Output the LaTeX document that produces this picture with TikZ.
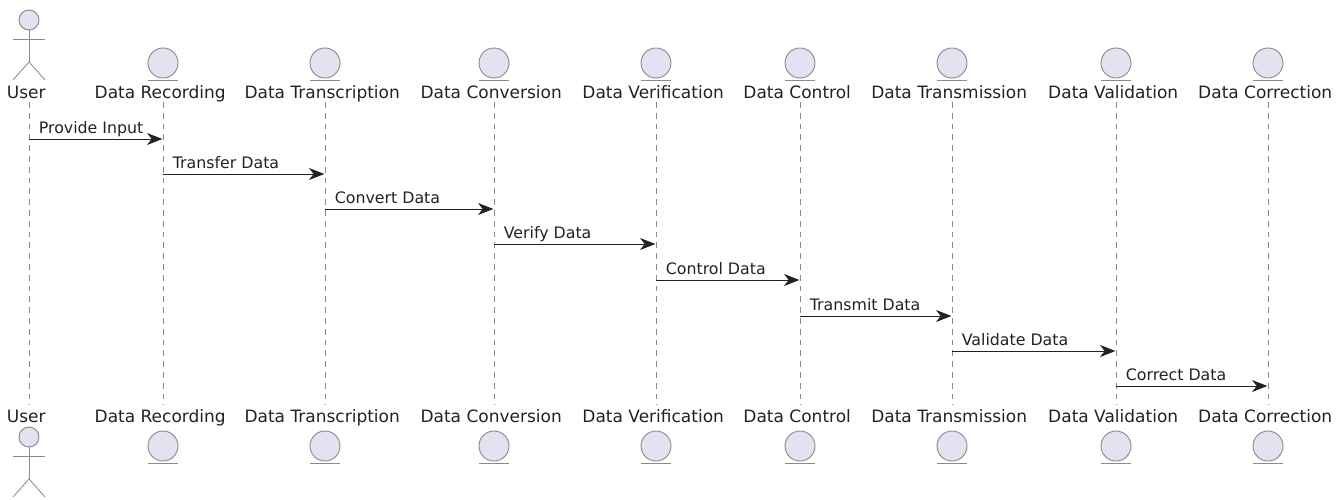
\documentclass[tikz,border=0pt]{standalone}
\usepackage{fontspec}
\setmainfont{DejaVu Sans}
\usetikzlibrary{arrows.meta}
\definecolor{pfill}{HTML}{E2E2F0}
\definecolor{pline}{HTML}{8A8A8A}
\definecolor{ink}{HTML}{222222}
\tikzset{
  x=0.75pt,y=-0.75pt,
  name text/.style={font=\fontsize{12.75pt}{14pt}\selectfont,text=ink,inner sep=0pt,anchor=base},
  msg text/.style={font=\fontsize{11.85pt}{13pt}\selectfont,text=ink,inner sep=0pt,anchor=base west},
  lifeline/.style={draw=pline,line width=0.6pt,dash pattern=on 4.4pt off 3.7pt},
  msg/.style={draw=ink,line width=0.7pt,-{Stealth[length=11.5pt,width=9pt,inset=3.5pt]},shorten >=0.5pt},
  part/.style={draw=pline,fill=pfill,line width=0.7pt},
  partline/.style={draw=pline,line width=0.6pt},
}
\newcommand{\drawlabels}[3]{% name, x, label
  \node[name text] (#1T) at (#2-2.8,98) {#3};
  \node[name text] (#1B) at (#2-2.8,422) {#3};
  \coordinate (#1a) at (#2,102);
  \coordinate (#1b) at (#2,405);
  \draw[lifeline] (#1a) -- (#1b);
}
\newcommand{\drawentity}[3]{%
  \drawlabels{#1}{#2}{#3}
  \draw[part] (#2,63) circle[radius=15];
  \draw[partline] (#2-15,80) -- (#2+15,80);
  \draw[part] (#2,446) circle[radius=15];
  \draw[partline] (#2-15,463) -- (#2+15,463);
}
\newcommand{\drawactor}[2]{% x, head y
  \draw[part] (#1,#2) circle[radius=10];
  \draw[partline] (#1,#2+10) -- (#1,#2+42);
  \draw[partline] (#1-16,#2+19) -- (#1+16,#2+19);
  \draw[partline] (#1-16,#2+60) -- (#1,#2+42) -- (#1+16,#2+60);
}
\begin{document}
\begin{tikzpicture}
\useasboundingbox (0,0) rectangle (1343,500);
\drawlabels{u}{29}{User}
\drawactor{29}{20}
\drawactor{29}{437}
\drawentity{r}{163}{Data Recording}
\drawentity{t}{325}{Data Transcription}
\drawentity{c}{494}{Data Conversion}
\drawentity{v}{656}{Data Verification}
\drawentity{k}{800}{Data Control}
\drawentity{m}{952}{Data Transmission}
\drawentity{l}{1116}{Data Validation}
\drawentity{e}{1268}{Data Correction}
\foreach \a/\b/\y/\txt in {u/r/139/Provide Input,r/t/174/Transfer Data,t/c/209/Convert Data,c/v/244/Verify Data,v/k/280/Control Data,k/m/316/Transmit Data,m/l/351/Validate Data,l/e/386/Correct Data}{
  \coordinate (p\a) at (\a a |- 0,\y);
  \coordinate (q\b) at (\b a |- 0,\y);
  \draw[msg] (p\a) -- (q\b);
  \node[msg text] (lab\a) at ([xshift=7.2pt,yshift=4.2pt]p\a) {\txt};
}
\end{tikzpicture}
\end{document}
